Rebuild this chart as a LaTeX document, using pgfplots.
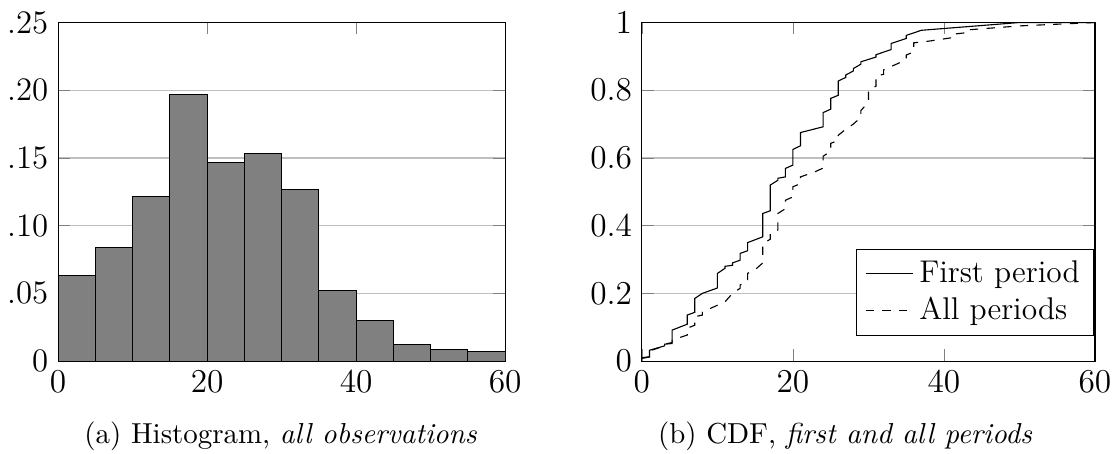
\documentclass[border=0pt]{standalone}
\usepackage{pgfplots}
\pgfplotsset{compat=1.18}
\begin{document}
\begin{tikzpicture}
\useasboundingbox (0,0) rectangle (400pt,163pt);
\pgfplotsset{
  every axis/.append style={
    scale only axis,
    anchor=south west,
    height=121.8pt,
    tick label style={font=\fontsize{11.8}{14}\selectfont},
    ymajorgrids,
    xmin=0, xmax=60,
    xtick={0,20,40,60},
  }
}
\begin{axis}[
  at={(20.9pt,33.1pt)},
  width=160.8pt,
  ymin=0, ymax=0.25,
  ytick={0,0.05,0.10,0.15,0.20,0.25},
  yticklabels={0,.05,.10,.15,.20,.25},
]
\addplot[ybar interval, fill=gray, draw=black] coordinates {
(0,0.0635)(5,0.0837)(10,0.1218)(15,0.1969)(20,0.1469)(25,0.1535)
(30,0.1270)(35,0.0519)(40,0.0300)(45,0.0121)(50,0.0086)(55,0.0069)(60,0.0069)};
\end{axis}
\begin{axis}[
  at={(230.9pt,33.1pt)},
  width=163pt,
  ymin=0, ymax=1,
  ytick={0,0.2,0.4,0.6,0.8,1},
  legend style={at={(0.998,0.075)}, anchor=south east, font=\fontsize{11.3}{13.3}\selectfont},
  legend cell align=left,
]
\addplot[black] coordinates {
(0,0.01)(1,0.013)(1,0.032)(3,0.045)(3,0.05)(4,0.052)(4,0.0915)(6,0.109)(6,0.136)
(7,0.144)(7,0.185)(8,0.2)(10,0.216)(10,0.259)(11,0.274)(11,0.28)(12,0.283)(12,0.29)
(13,0.298)(13,0.318)(14,0.326)(14,0.35)(16,0.367)(16,0.436)(17,0.444)(17,0.52)
(18,0.534)(18,0.54)(19,0.544)(19,0.569)(20,0.579)(20,0.625)(21,0.636)(21,0.675)
(24,0.692)(24,0.734)(25,0.744)(25,0.776)(26,0.785)(26,0.827)(27,0.838)(27,0.845)
(28,0.857)(28,0.864)(29,0.877)(29,0.884)(31,0.898)(31,0.905)(33,0.92)(33,0.938)
(35,0.953)(35,0.962)(37,0.977)(50,1.0)(60,1.0)};
\addlegendentry{First period}
\addplot[black, dashed] coordinates {
(0,0.008)(1,0.012)(1,0.03)(3,0.045)(3,0.05)(4,0.055)(4,0.062)(6,0.077)(6,0.097)
(7,0.106)(7,0.131)(8,0.136)(8,0.145)(10,0.165)(11,0.175)(12,0.2)(13,0.215)(13,0.225)
(14,0.234)(14,0.259)(15,0.27)(16,0.29)(16,0.347)(17,0.36)(17,0.377)(18,0.387)
(18,0.436)(19,0.45)(19,0.475)(20,0.485)(20,0.515)(21,0.524)(21,0.544)(23,0.56)
(24,0.57)(24,0.605)(25,0.62)(25,0.643)(26,0.652)(26,0.667)(27,0.685)(28,0.7)
(29,0.72)(29,0.74)(30,0.765)(30,0.8)(31,0.812)(31,0.842)(32,0.847)(32,0.86)
(35,0.89)(35,0.904)(36,0.913)(36,0.94)(38,0.945)(41,0.955)(41,0.965)(43,0.97)
(43,0.978)(50,0.99)(60,1.0)};
\addlegendentry{All periods}
\end{axis}
\node[anchor=base,font=\fontsize{10.4}{12.5}\selectfont] at (101pt,3.6pt) {(a) Histogram, \textit{all observations}};
\node[anchor=base,font=\fontsize{10.4}{12.5}\selectfont] at (304pt,3.6pt) {(b) CDF, \textit{first and all periods}};
\end{tikzpicture}
\end{document}
